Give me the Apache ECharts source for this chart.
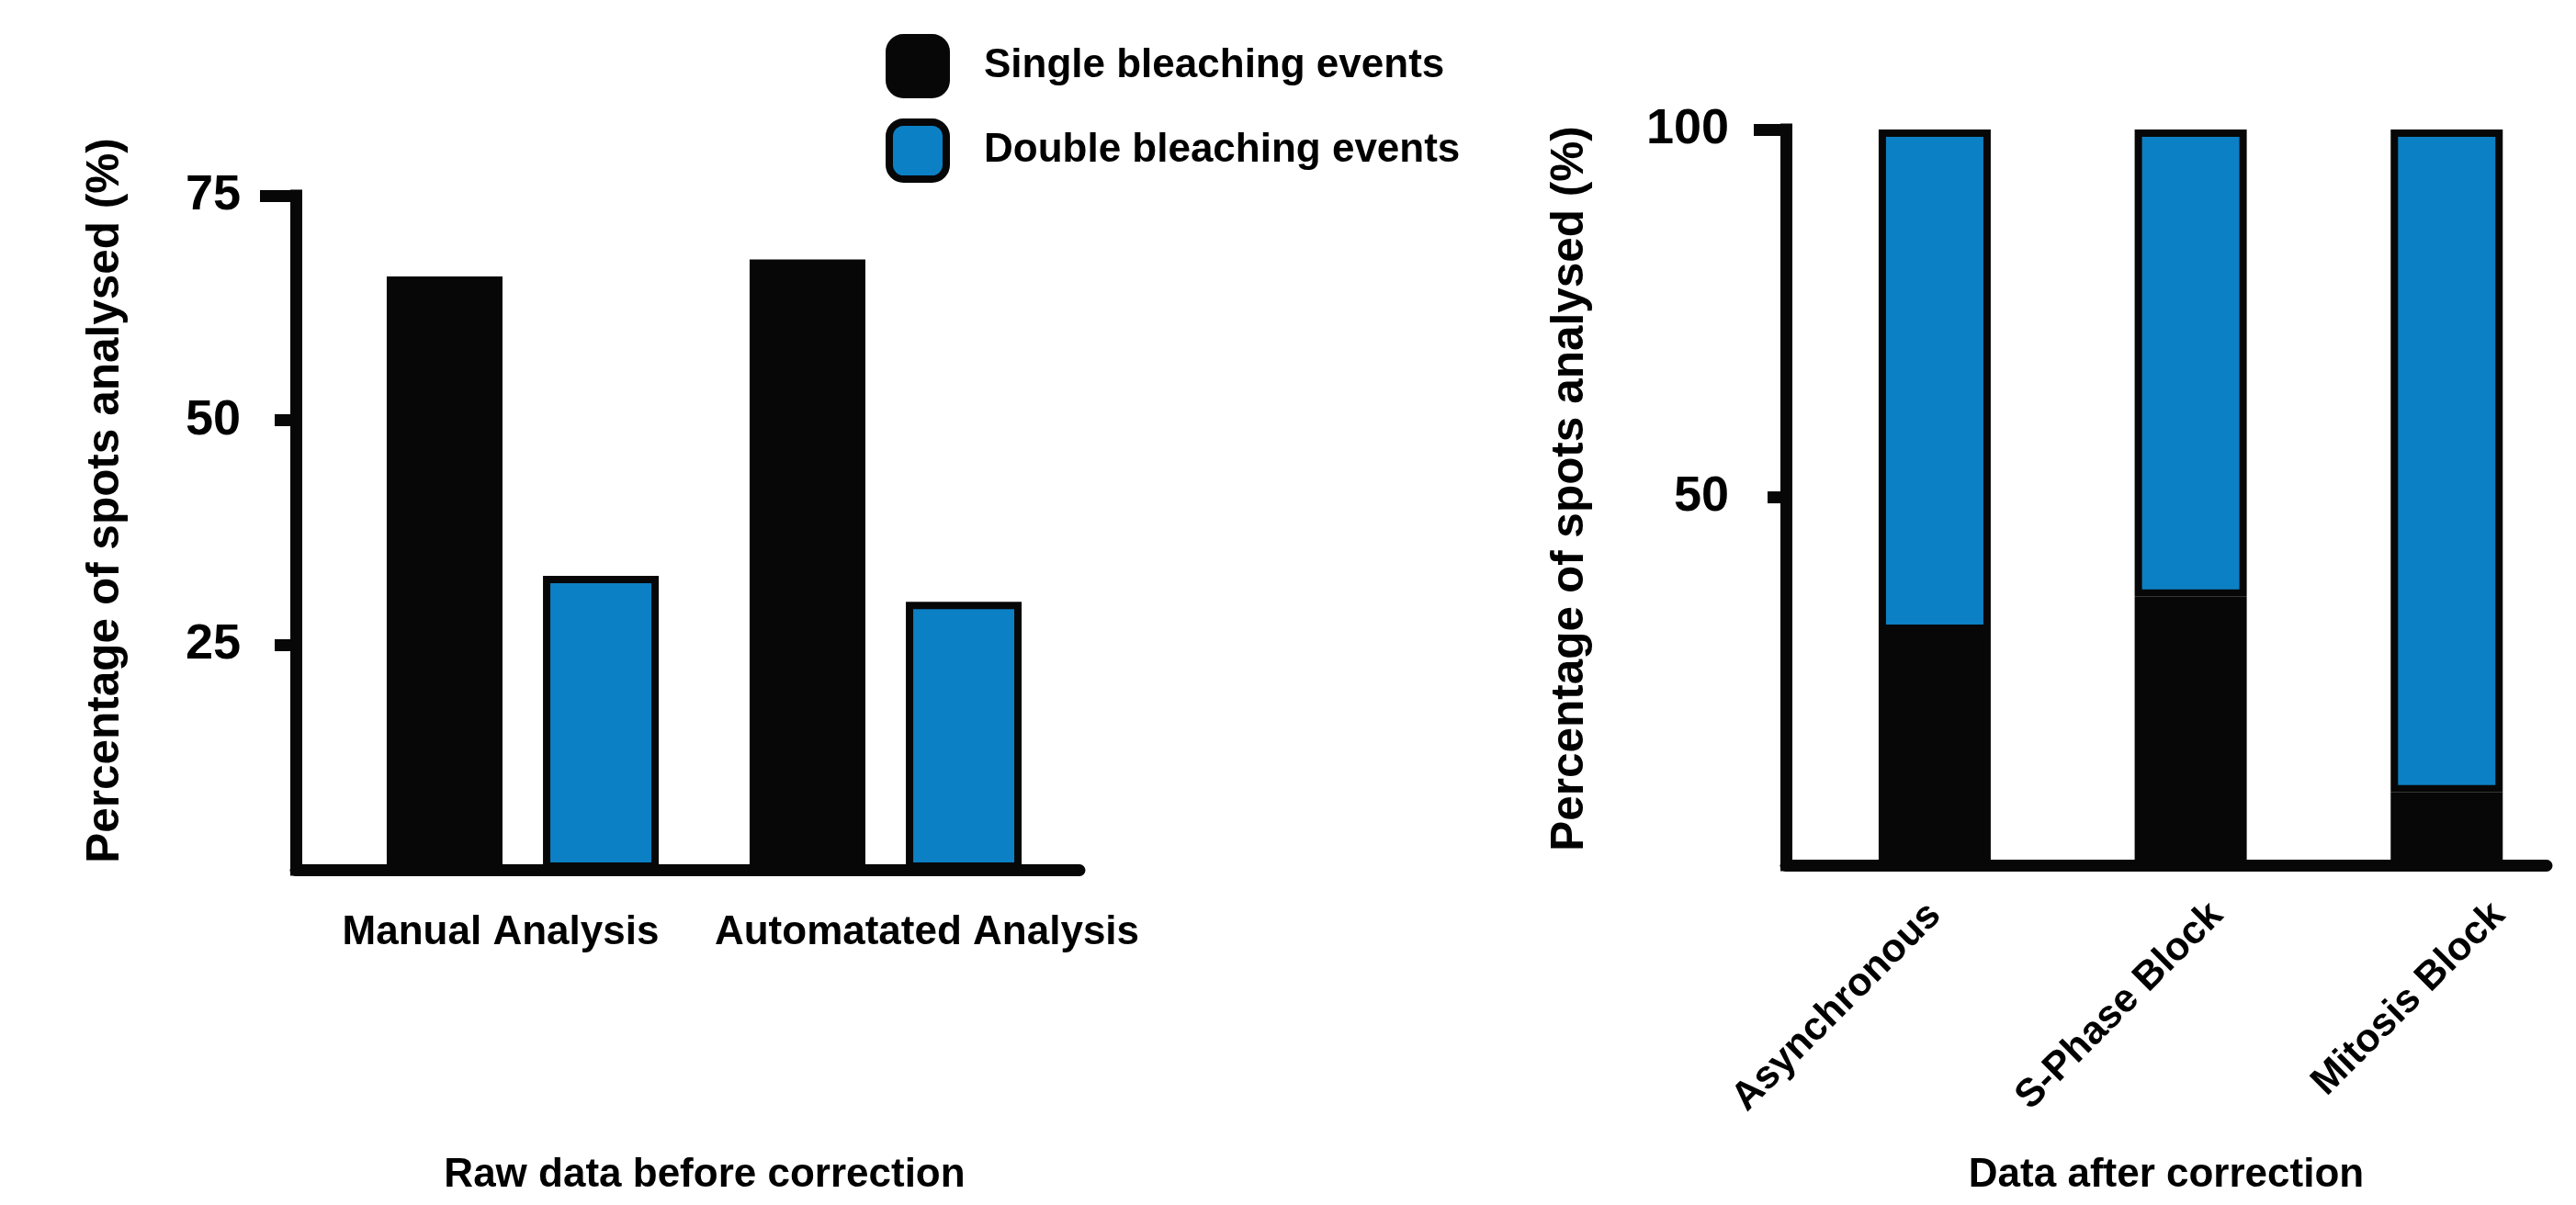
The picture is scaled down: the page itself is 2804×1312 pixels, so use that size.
<!DOCTYPE html>
<html>
<head>
<meta charset="utf-8">
<script src="https://cdn.jsdelivr.net/npm/echarts@6/dist/echarts.min.js"></script>
<style>
  html, body { margin: 0; padding: 0; background: #ffffff; }
  #chart { width: 2804px; height: 1312px; }
</style>
</head>
<body>
<div id="chart"></div>
<script>
// ---- data ----
const seriesNames = ['Single bleaching events', 'Double bleaching events'];
const leftCategories = ['Manual Analysis', 'Automatated Analysis'];
const leftSingle = [66.0, 67.9];
const leftDouble = [32.7, 29.8];
const leftTicks = [25, 50, 75];
const rightCategories = ['Asynchronous', 'S-Phase Block', 'Mitosis Block'];
const rightSingle = [31.7, 36.5, 9.9];
const rightDouble = [68.3, 63.5, 90.1];
const rightTicks = [50, 100];
const leftTitle = 'Raw data before correction';
const rightTitle = 'Data after correction';
const yName = 'Percentage of spots analysed (%)';

// ---- style ----
const INK = '#070707';
const BLUE = '#0c80c4';
const FONT = '"Liberation Sans", Arial, Helvetica, sans-serif';
const LW = 13;

const chart = echarts.init(document.getElementById('chart'), null, { renderer: 'canvas' });

const hiddenCat = (data, gridIndex) => ({ type: 'category', gridIndex, data, show: false });
const hiddenVal = (gridIndex, max) => ({ type: 'value', gridIndex, position: 'left', min: 0, max, show: false });

const leftMax = leftTicks[leftTicks.length - 1];
const rightMax = rightTicks[rightTicks.length - 1];

const option = {
  backgroundColor: '#ffffff',
  animation: false,
  textStyle: { fontFamily: FONT },
  legend: {
    data: seriesNames,
    orient: 'vertical',
    left: 964,
    top: 37,
    padding: 0,
    itemWidth: 62,
    itemHeight: 62,
    itemGap: 22,
    selectedMode: false,
    itemStyle: { borderColor: INK, borderWidth: 8 },
    textStyle: { fontSize: 44, fontWeight: 'bold', color: '#000', fontFamily: FONT, padding: [4, 0, 0, 36] }
  },
  grid: [
    { left: 322, top: 213, width: 853, height: 734, outerBoundsMode: 'none' },   // 0 left frame
    { left: 371.5, top: 213, width: 790, height: 734, outerBoundsMode: 'none' }, // 1 left bars
    { left: 313, top: 213, width: 928, height: 734, outerBoundsMode: 'none' },   // 2 left labels
    { left: 1944, top: 141, width: 828, height: 801, outerBoundsMode: 'none' },  // 3 right frame
    { left: 1966.6, top: 141, width: 836, height: 801, outerBoundsMode: 'none' },// 4 right bars
    { left: 1952.5, top: 141, width: 921, height: 801, outerBoundsMode: 'none' } // 5 right labels
  ],
  xAxis: [
    { type: 'category', gridIndex: 0, position: 'bottom', data: leftCategories, offset: 6,
      axisLine: { show: true, lineStyle: { color: INK, width: LW } },
      axisTick: { show: false }, axisLabel: { show: false }, splitLine: { show: false } },
    hiddenCat(leftCategories, 1),
    { type: 'category', gridIndex: 2, position: 'bottom', data: leftCategories,
      axisLine: { show: false }, axisTick: { show: false }, splitLine: { show: false },
      axisLabel: { interval: 0, margin: 47, fontSize: 44, fontWeight: 'bold', color: '#000', fontFamily: FONT } },
    { type: 'category', gridIndex: 3, position: 'bottom', data: rightCategories, offset: 6.5,
      axisLine: { show: true, lineStyle: { color: INK, width: LW } },
      axisTick: { show: false }, axisLabel: { show: false }, splitLine: { show: false } },
    hiddenCat(rightCategories, 4),
    { type: 'category', gridIndex: 5, position: 'bottom', data: rightCategories,
      axisLine: { show: false }, axisTick: { show: false }, splitLine: { show: false },
      axisLabel: { interval: 0, rotate: 45, margin: 48, fontSize: 43, fontWeight: 'bold', color: '#000', fontFamily: FONT } }
  ],
  yAxis: [
    { type: 'value', gridIndex: 0, position: 'left', offset: 0, min: 0, max: leftMax, interval: 25,
      axisLine: { show: true, lineStyle: { color: INK, width: LW, cap: 'square' } },
      axisTick: { show: true, length: 23, lineStyle: { color: INK, width: LW }, customValues: leftTicks.slice(0, -1) },
      axisLabel: { show: true, margin: 60, fontSize: 54, fontWeight: 'bold', color: '#000', fontFamily: FONT, customValues: leftTicks },
      splitLine: { show: false } },
    { type: 'value', gridIndex: 0, position: 'left', offset: 0, min: 0, max: leftMax, interval: 25,
      axisLine: { show: false },
      axisTick: { show: true, length: 39, lineStyle: { color: INK, width: LW }, customValues: [leftMax] },
      axisLabel: { show: false }, splitLine: { show: false } },
    hiddenVal(1, leftMax),
    hiddenVal(2, leftMax),
    { type: 'value', gridIndex: 3, position: 'left', offset: 0, min: 0, max: rightMax, interval: 50,
      axisLine: { show: true, lineStyle: { color: INK, width: LW, cap: 'square' } },
      axisTick: { show: true, length: 20, lineStyle: { color: INK, width: LW }, customValues: rightTicks.slice(0, -1) },
      axisLabel: { show: true, margin: 62, fontSize: 54, fontWeight: 'bold', color: '#000', fontFamily: FONT, customValues: rightTicks },
      splitLine: { show: false } },
    { type: 'value', gridIndex: 3, position: 'left', offset: 0, min: 0, max: rightMax, interval: 50,
      axisLine: { show: false },
      axisTick: { show: true, length: 35, lineStyle: { color: INK, width: LW }, customValues: [rightMax] },
      axisLabel: { show: false }, splitLine: { show: false } },
    hiddenVal(4, rightMax),
    hiddenVal(5, rightMax)
  ],
  series: [
    { name: seriesNames[0], type: 'bar', xAxisIndex: 1, yAxisIndex: 2, data: leftSingle,
      barWidth: 126, barGap: '35%',
      itemStyle: { color: INK, borderColor: INK, borderWidth: 8 } },
    { name: seriesNames[1], type: 'bar', xAxisIndex: 1, yAxisIndex: 2, data: leftDouble,
      barWidth: 126, barGap: '35%',
      itemStyle: { color: BLUE, borderColor: INK, borderWidth: 8 } },
    { name: seriesNames[0], type: 'bar', xAxisIndex: 4, yAxisIndex: 6, data: rightSingle,
      stack: 'after', barWidth: 122,
      itemStyle: { color: INK, borderColor: INK, borderWidth: 8 } },
    { name: seriesNames[1], type: 'bar', xAxisIndex: 4, yAxisIndex: 6, data: rightDouble,
      stack: 'after', barWidth: 122,
      itemStyle: { color: BLUE, borderColor: INK, borderWidth: 8 } }
  ],
  graphic: [
    { type: 'text', x: 115, y: 545, rotation: Math.PI / 2,
      style: { text: yName, font: 'bold 49.5px ' + FONT, fill: '#000', align: 'center', verticalAlign: 'middle' } },
    { type: 'text', x: 1709, y: 532, rotation: Math.PI / 2,
      style: { text: yName, font: 'bold 49.5px ' + FONT, fill: '#000', align: 'center', verticalAlign: 'middle' } },
    { type: 'text', x: 767, y: 1280,
      style: { text: leftTitle, font: 'bold 44px ' + FONT, fill: '#000', align: 'center', verticalAlign: 'middle' } },
    { type: 'text', x: 2358, y: 1280,
      style: { text: rightTitle, font: 'bold 44px ' + FONT, fill: '#000', align: 'center', verticalAlign: 'middle' } }
  ]
};

chart.setOption(option);
</script>
</body>
</html>
